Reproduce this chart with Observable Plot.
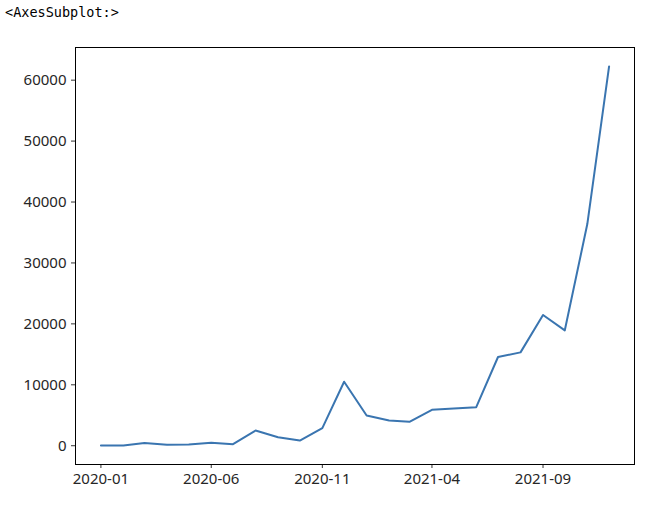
<!DOCTYPE html>
<html>
<head>
<meta charset="utf-8">
<script src="https://cdn.jsdelivr.net/npm/d3@7"></script>
<script src="https://cdn.jsdelivr.net/npm/@observablehq/plot@0.6"></script>
<style>
  html, body { margin: 0; padding: 0; background: #fff; }
  #wrap { position: relative; width: 646px; height: 506px; overflow: hidden; }
  #title { position: absolute; left: 5px; top: 3px; font-family: "DejaVu Sans Mono", monospace; font-size: 13.5px; color: #000; line-height: 18px; }
  #chart { position: absolute; left: 0; top: 0; }
</style>
</head>
<body>
<div id="wrap">
  <div id="chart"></div>
  <div id="title">&lt;AxesSubplot:&gt;</div>
</div>
<script>
const months = ["2020-01","2020-02","2020-03","2020-04","2020-05","2020-06","2020-07","2020-08","2020-09","2020-10","2020-11","2020-12",
                "2021-01","2021-02","2021-03","2021-04","2021-05","2021-06","2021-07","2021-08","2021-09","2021-10","2021-11","2021-12"];
const counts = [30, 50, 450, 150, 200, 500, 250, 2500, 1400, 850, 2900, 10500,
                4970, 4140, 3920, 5890, 6110, 6330, 14560, 15320, 21460, 18940, 36380, 62250];
const xTickLabels = ["2020-01","2020-06","2020-11","2021-04","2021-09"];
const yTicks = [0, 10000, 20000, 30000, 40000, 50000, 60000];

const parse = d3.utcParse("%Y-%m");
const data = months.map((m, i) => ({date: parse(m), value: counts[i]}));
const xTicks = xTickLabels.map(parse);

const x0 = data[0].date, x1 = data[data.length - 1].date;
const xPad = (x1 - x0) * 0.05;
const yMin = d3.min(counts), yMax = d3.max(counts);
const yPad = (yMax - yMin) * 0.05;

const font = "'Noto Sans', sans-serif";

const chart = Plot.plot({
  width: 646,
  height: 506,
  marginLeft: 75,
  marginRight: 12,
  marginTop: 47,
  marginBottom: 42,
  style: {fontFamily: font, fontSize: "15px", color: "#262626", background: "#fff"},
  x: {type: "utc", domain: [new Date(+x0 - xPad), new Date(+x1 + xPad)]},
  y: {domain: [yMin - yPad, yMax + yPad]},
  marks: [
    Plot.line(data, {x: "date", y: "value", stroke: "#3a75b0", strokeWidth: 2}),
    Plot.axisX({ticks: xTicks, tickFormat: d3.utcFormat("%Y-%m"), tickSize: 4, tickPadding: 5, stroke: "#333", fontSize: 15, label: null}),
    Plot.axisY({ticks: yTicks, tickFormat: d => String(d), tickSize: 4, tickPadding: 5, stroke: "#333", fontSize: 15, label: null}),
    Plot.frame({stroke: "#000", strokeWidth: 1})
  ]
});
document.getElementById("chart").appendChild(chart);
</script>
</body>
</html>
